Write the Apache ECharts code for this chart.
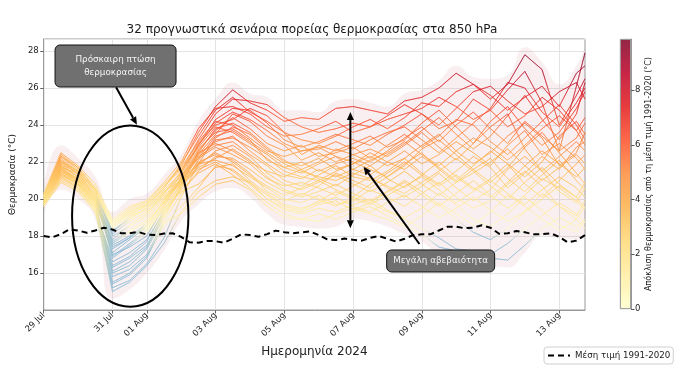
<!DOCTYPE html>
<html><head><meta charset="utf-8">
<script src="https://cdn.jsdelivr.net/npm/echarts@6/dist/echarts.min.js"></script>
<style>html,body{margin:0;padding:0;background:#fff}#c{width:680px;height:382px}</style>
</head><body><div id="c"></div>
<script>
const FONT = 'DejaVu Sans';
const chartTitle = '32 προγνωστικά σενάρια πορείας θερμοκρασίας στα 850 hPa';
const xName = 'Ημερομηνία 2024';
const yName = 'Θερμοκρασία (°C)';
const cbarTitle = 'Απόκλιση θερμοκρασίας από τη μέση τιμή 1991-2020 (°C)';
const climName = 'Μέση τιμή 1991-2020';
const startTime = Date.UTC(2024, 6, 29, 0);
const tickLabels = ['29 Jul','31 Jul','01 Aug','03 Aug','05 Aug','07 Aug','09 Aug','11 Aug','13 Aug'];
const cbarTicks = [0, 2, 4, 6, 8];
const cbarMax = 9.87;

// climatological mean 1991-2020, 6-hourly from 29 Jul 00 UTC
const climMean = [18.0,17.93,18.1,18.36,18.3,18.18,18.3,18.45,18.35,18.15,
18.15,18.22,18.08,18.05,18.13,18.15,17.95,17.66,17.64,17.73,
17.72,17.64,17.85,18.09,18.05,17.96,18.1,18.29,18.2,18.15,
18.2,18.25,18.05,17.82,17.78,17.86,17.8,17.75,17.9,18.0,
17.85,17.7,17.85,18.05,18.09,18.09,18.3,18.5,18.5,18.42,
18.45,18.58,18.45,18.12,18.15,18.27,18.2,18.09,18.1,18.15,
17.95,17.65,17.75,18.05];

// hours after 29 Jul 00 UTC of each ensemble value
const memberHours = [0,12,24,36,48,60,72,84,96,108,120,132,144,156,168,180,192,204,216,228,240,252,264,276,288,300,312,324,336,348,360,372,378];

const m01 = [20.1,22.2,21.5,20.4,18.6,19.3,19.7,20.6,21.8, 23.6,25.0,25.9,25.2,24.8,24.2,24.4,24.3,24.9,25.0,24.8,24.6, 25.3,25.5,26.0,26.8,26.2,25.4,26.2,27.8,27.0,24.0,25.6,26.5];
const m02 = [19.8,21.5,21.0,19.9,17.8,18.6,19.2,20.3,21.5, 23.2,24.6,25.4,25.3,25.1,24.4,23.9,23.6,23.8,24.1,23.9,24.3, 24.6,24.9,25.5,25.0,24.3,24.8,25.9,26.9,25.2,22.6,26.1,27.9];
const m03 = [20.2,22.4,21.7,20.6,18.8,19.5,19.9,20.9,22.0, 23.8,24.9,25.0,24.6,23.9,23.4,23.5,23.8,24.2,23.6,23.9,24.5, 25.1,24.6,24.0,24.9,25.8,26.1,25.3,24.6,25.0,25.8,26.3,25.4];
const m04 = [19.9,21.9,21.2,20.2,18.2,19.0,19.5,20.4,21.2, 22.9,24.3,24.9,24.8,24.1,23.2,22.8,23.1,23.5,23.2,22.9,23.5, 24.0,24.6,23.8,24.2,25.4,24.8,23.9,24.5,25.5,24.8,23.7,24.4];
const m05 = [20.0,21.7,21.4,20.0,17.1,17.8,18.5,19.9,21.4, 23.0,24.0,24.3,24.9,24.5,23.6,22.4,22.9,22.6,23.0,23.4,22.8, 23.2,24.1,24.8,23.9,23.0,24.2,25.0,23.8,22.9,23.6,24.9,25.8];
const m06 = [19.7,21.3,20.8,19.6,16.4,16.9,17.7,19.4,20.8, 22.6,23.7,24.4,23.8,23.0,22.6,22.9,22.3,22.5,22.8,22.2,22.9, 23.5,22.8,23.4,24.3,24.0,23.1,22.4,23.3,24.2,25.1,24.0,23.2];
const m07 = [20.1,22.0,21.5,20.5,18.5,19.1,19.4,20.2,21.0, 22.4,23.5,24.6,24.2,23.4,22.9,22.1,22.5,22.0,22.4,22.7,22.3, 22.9,23.6,22.8,22.1,23.0,23.9,24.6,22.7,21.5,22.3,23.1,22.6];
const m08 = [19.6,21.0,20.5,19.3,15.2,15.6,16.5,17.9,20.1, 21.9,23.3,23.9,23.5,22.7,22.0,21.8,22.2,21.6,21.9,22.3,21.8, 22.2,22.9,23.5,22.6,21.9,22.5,23.4,24.1,23.3,21.8,22.5,23.6];
const m09 = [20.0,21.8,21.2,20.1,18.7,19.4,19.8,20.7,21.6, 22.8,23.9,23.6,23.0,22.4,21.7,21.4,21.9,22.3,21.6,21.3,22.0, 22.6,21.9,22.4,23.1,22.5,21.8,22.9,23.7,22.4,23.0,22.2,21.6];
const m10 = [19.8,21.4,20.9,19.7,16.0,16.4,17.3,19.0,20.6, 22.1,23.2,23.3,22.8,22.2,21.5,21.2,21.0,21.5,21.9,22.5,22.0, 21.6,22.3,21.7,21.0,21.8,22.6,21.9,21.2,22.0,23.4,24.2,23.5];
const m11 = [20.3,22.5,21.8,20.8,18.9,19.6,19.9,20.8,21.7, 23.1,24.2,24.0,23.3,22.6,22.3,22.6,22.8,22.3,22.0,21.6,21.2, 21.8,22.7,23.2,22.4,21.6,20.9,21.7,22.8,23.6,22.5,21.4,20.8];
const m12 = [19.9,21.6,21.1,19.8,17.5,18.0,18.4,19.7,21.0, 22.3,22.9,23.1,22.4,21.8,21.0,20.7,21.3,21.8,21.2,21.0,21.5, 22.2,21.4,20.8,21.5,22.3,21.7,20.6,21.4,22.3,21.6,22.8,23.1];
const m13 = [20.1,22.1,21.3,20.2,17.0,17.4,18.0,19.6,21.2, 22.5,23.0,22.6,22.0,21.5,21.2,21.6,21.1,20.7,21.3,21.8,21.1, 20.6,21.3,22.0,21.2,20.5,21.1,21.9,20.8,20.1,21.0,21.9,22.4];
const m14 = [19.7,21.2,20.7,19.5,16.6,17.1,17.8,19.3,20.6, 21.8,22.6,22.9,22.3,21.4,20.8,20.5,20.9,21.3,20.8,20.4,20.9, 21.5,20.8,20.2,20.9,21.6,22.2,21.1,20.4,21.3,22.1,21.0,20.5];
const m15 = [20.0,21.9,21.4,20.3,18.3,18.9,19.5,20.3,21.3, 22.2,22.8,22.4,21.9,21.1,20.7,20.9,20.6,20.2,20.7,21.2,20.6, 20.1,20.7,21.4,20.6,19.9,20.5,21.6,22.3,21.5,20.4,19.8,20.6];
const m16 = [19.8,21.5,20.9,19.8,15.8,16.2,17.0,18.8,20.3, 21.5,22.3,22.2,21.6,20.9,20.4,20.1,20.4,20.8,20.3,19.9,20.4, 20.9,20.2,19.6,20.3,21.0,20.2,19.5,20.2,21.1,20.6,19.9,19.4];
const m17 = [20.2,22.3,21.6,20.5,18.6,19.2,19.6,20.4,21.0, 21.9,22.1,21.8,21.2,20.6,20.0,19.8,20.2,19.7,19.9,20.5,20.1, 19.6,20.3,20.9,20.1,19.5,19.9,20.8,21.5,20.7,19.6,19.1,19.9];
const m18 = [19.6,20.9,20.4,19.3,16.8,17.5,18.2,19.5,20.4, 20.8,21.7,21.9,21.0,20.3,19.7,19.5,19.8,20.1,19.6,19.3,19.8, 20.2,19.6,19.0,19.5,20.1,19.4,18.8,19.3,20.0,20.7,20.1,19.5];
const m19 = [20.0,21.7,21.0,20.0,18.1,18.8,19.3,20.1,20.8, 21.6,22.0,21.5,20.8,20.0,19.4,19.2,19.5,19.3,19.7,20.0,19.4, 18.9,18.4,17.9,17.3,17.2,17.0,17.6,18.4,19.1,19.8,19.2,18.7];
const m20 = [19.9,21.4,20.8,19.6,16.3,16.8,17.5,19.2,20.5, 21.4,21.9,21.3,20.6,19.8,19.2,18.9,19.2,18.9,19.3,19.6,19.1, 18.6,18.1,17.4,17.2,17.0,16.8,16.7,17.5,18.4,19.0,18.5,18.9];
const m21 = [20.1,21.8,21.2,20.0,17.3,17.9,18.7,19.8,20.9, 22.0,22.4,22.1,21.4,20.4,19.9,20.3,20.0,19.6,20.1,19.8,19.3, 19.0,19.5,20.3,19.7,18.9,18.5,19.2,20.1,19.4,18.6,18.2,18.8];
const m22 = [19.7,21.1,20.6,19.4,15.4,15.9,16.8,18.7,19.2, 20.1,20.8,21.0,20.5,19.6,19.0,18.9,18.8,19.2,19.5,19.2,18.9, 18.5,19.1,19.8,19.2,18.6,19.3,20.2,19.6,18.9,18.3,18.9,19.6];
const m23 = [20.0,21.6,21.0,19.8,17.7,18.3,18.9,20.0,21.1, 22.7,23.6,23.8,23.2,22.1,21.7,22.0,21.5,21.9,22.2,21.8,22.4, 23.0,23.7,24.4,23.5,22.7,23.4,24.5,25.6,24.3,23.2,24.6,26.3];
const m24 = [20.2,22.3,21.7,20.6,18.4,19.1,19.7,20.6,21.9, 23.4,24.8,25.5,24.7,24.2,23.6,23.2,23.0,23.4,23.9,24.3,23.8, 24.4,25.2,25.0,25.8,26.2,25.6,24.8,25.5,26.1,25.0,26.8,27.2];
const m25 = [19.8,21.3,20.8,19.6,16.1,16.6,17.4,19.1,20.7, 22.5,23.8,24.1,23.6,22.8,22.1,21.6,22.0,22.7,22.4,22.0,22.6, 23.3,23.9,23.1,24.0,24.7,23.8,23.0,24.2,23.4,22.6,23.3,24.1];
const m26 = [20.1,22.0,21.4,20.2,17.6,18.2,18.8,19.8,21.1, 22.4,23.1,23.4,22.6,21.9,21.3,21.1,21.6,21.2,21.6,22.1,22.5, 23.1,22.4,21.8,22.6,23.3,22.8,22.1,22.9,23.8,24.5,23.7,22.9];
const m27 = [19.9,21.5,21.0,19.9,18.0,18.5,19.1,20.1,20.9, 21.7,22.2,22.7,22.1,21.2,20.5,20.2,20.7,21.4,21.0,20.6,21.2, 21.9,22.5,21.6,20.9,21.4,22.0,22.7,21.8,21.0,21.7,22.4,21.9];
const m28 = [20.0,21.7,21.1,20.1,16.9,17.6,18.3,19.6,20.8, 21.9,22.5,22.0,21.3,20.7,20.2,20.6,21.0,20.5,20.1,20.8,21.4, 22.0,21.3,20.7,21.3,20.6,20.1,20.9,21.8,22.6,21.9,21.2,21.7];
const m29 = [19.7,21.2,20.6,19.5,15.0,15.5,16.4,17.6,19.3, 20.4,21.0,21.2,20.9,20.2,19.6,19.4,19.9,20.4,20.0,19.7,20.2, 20.7,21.2,20.5,19.8,20.4,21.0,20.3,19.7,20.5,21.2,20.6,20.1];
const m30 = [20.2,22.1,21.5,20.4,18.7,19.3,19.7,20.5,21.4, 22.9,24.1,24.7,24.3,23.7,23.0,22.6,22.7,23.1,22.7,23.2,23.6, 23.9,23.2,22.5,23.3,24.1,24.9,26.3,26.0,24.7,23.9,25.2,26.0];
const m31 = [19.8,21.4,20.8,19.7,17.4,17.9,18.6,19.9,21.0, 22.2,23.4,23.7,23.1,22.5,21.9,21.5,21.2,21.0,21.4,21.1,20.7, 20.3,20.9,21.5,22.2,21.5,20.7,20.0,20.9,21.7,20.8,20.1,20.9];
const m32 = [19.9,21.6,21.0,19.8,15.5,16.0,16.9,18.6,19.6, 20.6,21.8,21.6,20.9,20.0,19.5,19.3,19.7,19.9,19.4,19.8,20.4, 21.0,20.4,19.7,18.9,18.2,17.8,18.4,19.3,20.3,19.6,18.9,18.4];
const members = [m01,m02,m03,m04,m05,m06,m07,m08,m09,m10,m11,m12,m13,m14,m15,m16,m17,m18,m19,m20,m21,m22,m23,m24,m25,m26,m27,m28,m29,m30,m31,m32];

// annotations (data coordinates: x = 6-hour step index, y = °C)
const dipEllipse = {center: [10.07, 19.08], halfWidth: 6.77, halfHeight: 4.9};
const noteDip = {text: 'Πρόσκαιρη πτώση\nθερμοκρασίας', box: [8.36, 27.19], from: [8.42, 26.04], to: [10.85, 24.01]};
const spreadArrow = {x: 35.69, low: 18.42, high: 24.70};
const noteSpread = {text: 'Μεγάλη αβεβαιότητα', box: [46.2, 16.65], from: [43.73, 17.57], to: [37.23, 21.75]};

// ---------- helpers ----------
const ylorrd = ['#ffffcc','#ffeda0','#fed976','#feb24c','#fd8d3c','#fc4e2a','#e31a1c','#bd0026','#800026'];
const cmapRGB = ylorrd.map(h => [parseInt(h.slice(1,3),16), parseInt(h.slice(3,5),16), parseInt(h.slice(5,7),16)]);
function anomalyColor(a, alpha) {
  if (a < 0) return 'rgba(135,185,212,' + alpha + ')';
  const t = Math.min(a / cbarMax, 1) * (cmapRGB.length - 1);
  const i = Math.min(Math.floor(t), cmapRGB.length - 2);
  const f = t - i;
  const c = cmapRGB[i].map((v, j) => Math.round(v + (cmapRGB[i + 1][j] - v) * f));
  return 'rgba(' + c[0] + ',' + c[1] + ',' + c[2] + ',' + alpha + ')';
}
const months = ['Jan','Feb','Mar','Apr','May','Jun','Jul','Aug','Sep','Oct','Nov','Dec'];
const pad = n => (n < 10 ? '0' : '') + n;
const categories = climMean.map((_, i) => {
  const d = new Date(startTime + i * 6 * 3600e3);
  return pad(d.getUTCDate()) + ' ' + months[d.getUTCMonth()] + ' ' + pad(d.getUTCHours());
});
const isTick = idx => categories[idx].endsWith(' 00') && tickLabels.indexOf(categories[idx].slice(0, 6)) >= 0;
const memberIdx = memberHours.map(h => h / 6);
const bandPad = 0.4;
const bandLow = memberIdx.map((_, k) => Math.min(...members.map(r => r[k])) - bandPad);
const bandHigh = memberIdx.map((_, k) => Math.max(...members.map(r => r[k])) + bandPad);

const memberSeries = members.map((vals, m) => ({
  type: 'custom', name: 'member' + (m + 1), xAxisIndex: 0, yAxisIndex: 0, z: 2, silent: true,
  dimensions: ['x', 'y', 'a'],
  encode: {x: 0, y: 1},
  data: vals.map((v, k) => [memberIdx[k], v, v - climMean[memberIdx[k]]]),
  renderItem: function (params, api) {
    const i = params.dataIndexInside;
    if (i === 0) return null;
    const p0 = api.coord([api.value(0, i - 1), api.value(1, i - 1)]);
    const p1 = api.coord([api.value(0, i), api.value(1, i)]);
    const c0 = anomalyColor(api.value(2, i - 1), 0.6);
    const c1 = anomalyColor(api.value(2, i), 0.6);
    return {
      type: 'line',
      shape: {x1: p0[0], y1: p0[1], x2: p1[0], y2: p1[1]},
      style: {stroke: new echarts.graphic.LinearGradient(p0[0], p0[1], p1[0], p1[1], [{offset: 0, color: c0}, {offset: 1, color: c1}], true), lineWidth: 0.9}
    };
  }
}));

const chart = echarts.init(document.getElementById('c'), null, {renderer: 'canvas', width: 680, height: 382});
const gridLine = {show: true, lineStyle: {color: '#e4e4e4', width: 1}};
const option = {
  animation: false,
  backgroundColor: '#ffffff',
  textStyle: {fontFamily: FONT},
  title: {text: chartTitle, left: 312, top: 24, textAlign: 'center', padding: 0,
    textStyle: {fontSize: 12, fontWeight: 'normal', color: '#1a1a1a', fontFamily: FONT}},
  legend: {data: [climName], left: 544, top: 347, orient: 'horizontal', padding: [4, 3], itemWidth: 22, itemHeight: 8,
    itemStyle: {opacity: 0},
    borderColor: '#d0d0d0', borderWidth: 1, borderRadius: 3, backgroundColor: 'rgba(255,255,255,0.85)',
    textStyle: {fontSize: 8.7, color: '#222', fontFamily: FONT}},
  grid: [
    {left: 39, top: 39, width: 546, height: 271, show: true, borderColor: '#999', borderWidth: 1, backgroundColor: 'transparent'},
    {left: 620, top: 39, width: 11, height: 270}
  ],
  xAxis: [
    {gridIndex: 0, type: 'category', data: categories, boundaryGap: false,
      axisLine: {show: true, lineStyle: {color: '#999'}},
      axisTick: {show: true, length: 3.5, interval: isTick, lineStyle: {color: '#666'}},
      axisLabel: {interval: isTick, rotate: 45, fontSize: 8.5, color: '#222', margin: 4, formatter: v => v.slice(0, 6)},
      splitLine: {show: true, interval: isTick, lineStyle: {color: '#e4e4e4', width: 1}},
      name: xName, nameLocation: 'middle', nameGap: 34, nameTextStyle: {fontSize: 12, color: '#222'}},
    {gridIndex: 1, type: 'category', data: ['cbar'], show: false}
  ],
  yAxis: [
    {gridIndex: 0, type: 'value', min: 14, max: 28.65, interval: 2,
      axisLine: {show: true, lineStyle: {color: '#999'}},
      axisTick: {show: true, length: 3.5, lineStyle: {color: '#666'}},
      axisLabel: {fontSize: 8.5, color: '#222', margin: 5, showMinLabel: false, showMaxLabel: false},
      splitLine: gridLine,
      name: yName, nameLocation: 'middle', nameGap: 19, nameTextStyle: {fontSize: 9, color: '#222'}},
    {gridIndex: 1, type: 'value', min: 0, max: cbarMax, interval: 2, position: 'right',
      axisLine: {show: true, lineStyle: {color: '#999', width: 1}},
      axisTick: {show: true, length: 3.5, lineStyle: {color: '#555'}},
      axisLabel: {fontSize: 8.5, color: '#222', margin: 4, showMaxLabel: false,
        formatter: v => (cbarTicks.indexOf(v) >= 0 ? String(v) : '')},
      splitLine: {show: false},
      name: cbarTitle, nameLocation: 'middle', nameRotate: 90, nameGap: 14, nameTextStyle: {fontSize: 8, color: '#222'}}
  ],
  series: [
    {type: 'line', name: 'bandLow', data: memberIdx.map((x, k) => [x, bandLow[k]]), stack: 'band', symbol: 'none',
      smooth: 0.5, lineStyle: {opacity: 0}, silent: true, z: 1, xAxisIndex: 0, yAxisIndex: 0},
    {type: 'line', name: 'bandHigh', data: memberIdx.map((x, k) => [x, bandHigh[k] - bandLow[k]]), stack: 'band', symbol: 'none',
      smooth: 0.5, lineStyle: {opacity: 0}, areaStyle: {color: 'rgba(215,140,155,0.2)'}, silent: true, z: 1, xAxisIndex: 0, yAxisIndex: 0},
    ...memberSeries,
    {type: 'line', name: climName, data: climMean, symbol: 'none', z: 4, xAxisIndex: 0, yAxisIndex: 0,
      lineStyle: {color: '#000', width: 2, type: [6, 4]}, itemStyle: {color: '#000'}},
    {type: 'bar', name: 'cbar', xAxisIndex: 1, yAxisIndex: 1, data: [cbarMax], barWidth: '100%', silent: true,
      itemStyle: {borderColor: '#999', borderWidth: 0.8,
        color: new echarts.graphic.LinearGradient(0, 1, 0, 0, ylorrd.map((c, i) => ({offset: i / (ylorrd.length - 1), color: anomalyColor(i / (ylorrd.length - 1) * cbarMax, 0.85)})))}}
  ]
};
chart.setOption(option);

// ---------- annotations ----------
function P(x, y) {
  const x0 = Math.floor(x), f = x - x0;
  const a = chart.convertToPixel({xAxisIndex: 0, yAxisIndex: 0}, [x0, y]);
  const b = chart.convertToPixel({xAxisIndex: 0, yAxisIndex: 0}, [x0 + 1, y]);
  return [a[0] + (b[0] - a[0]) * f, a[1]];
}
function arrow(from, to, headLen, headHalf) {
  const dx = to[0] - from[0], dy = to[1] - from[1];
  const L = Math.hypot(dx, dy), ux = dx / L, uy = dy / L;
  const bx = to[0] - ux * headLen, by = to[1] - uy * headLen;
  return {
    line: [from, [bx, by]],
    head: [[to[0], to[1]], [bx - uy * headHalf, by + ux * headHalf], [bx + uy * headHalf, by - ux * headHalf]]
  };
}
function arrowEls(from, to, both) {
  const els = [];
  const a = arrow(from, to, 8, 3.5);
  let start = from;
  if (both) {
    const b = arrow(to, from, 8, 3.5);
    start = b.line[1];
    els.push({type: 'polygon', shape: {points: b.head}, style: {fill: '#000'}, z: 20});
  }
  els.push({type: 'line', shape: {x1: start[0], y1: start[1], x2: a.line[1][0], y2: a.line[1][1]}, style: {stroke: '#000', lineWidth: 2}, z: 20});
  els.push({type: 'polygon', shape: {points: a.head}, style: {fill: '#000'}, z: 20});
  return els;
}
function boxEls(center, text, w, h) {
  return [
    {type: 'rect', shape: {x: center[0] - w / 2, y: center[1] - h / 2, width: w, height: h, r: 5},
      style: {fill: '#707070', stroke: '#111', lineWidth: 1}, z: 21},
    {type: 'text', x: center[0], y: center[1], style: {text: text, align: 'center', verticalAlign: 'middle',
      fill: '#f4f4f4', font: '8.8px "DejaVu Sans"', lineHeight: 12.5}, z: 22}
  ];
}
const ec = P(dipEllipse.center[0], dipEllipse.center[1]);
const erx = P(dipEllipse.center[0] + dipEllipse.halfWidth, dipEllipse.center[1])[0] - ec[0];
const ery = ec[1] - P(dipEllipse.center[0], dipEllipse.center[1] + dipEllipse.halfHeight)[1];
const graphics = [
  {type: 'ellipse', shape: {cx: ec[0], cy: ec[1], rx: erx, ry: ery}, style: {fill: 'none', stroke: '#000', lineWidth: 2}, z: 19},
  ...arrowEls(P(noteDip.from[0], noteDip.from[1]), P(noteDip.to[0], noteDip.to[1]), false),
  ...boxEls(P(noteDip.box[0], noteDip.box[1]), noteDip.text, 121, 42),
  ...arrowEls(P(spreadArrow.x, spreadArrow.low), P(spreadArrow.x, spreadArrow.high), true),
  ...arrowEls(P(noteSpread.from[0], noteSpread.from[1]), P(noteSpread.to[0], noteSpread.to[1]), false),
  ...boxEls(P(noteSpread.box[0], noteSpread.box[1]), noteSpread.text, 108, 22)
];
chart.setOption({graphic: {elements: graphics}});
</script></body></html>
